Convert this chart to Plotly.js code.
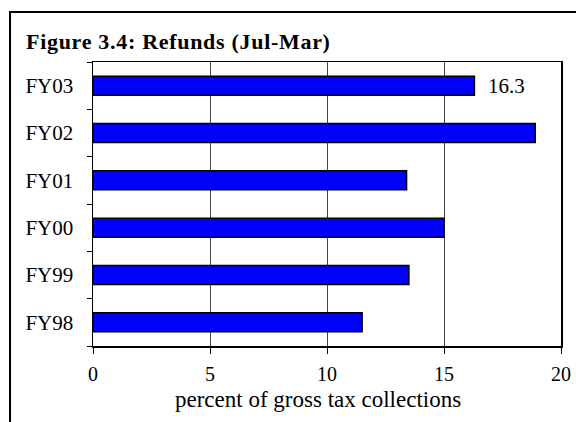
<!DOCTYPE html>
<html>
<head>
<meta charset="utf-8">
<script src="https://cdn.plot.ly/plotly-3.0.1.min.js"></script>
<style>
  html, body { margin: 0; padding: 0; background: #fff; }
  #wrap { position: relative; width: 576px; height: 422px; overflow: hidden; }
  #chart { width: 576px; height: 422px; }
  #frame { position: absolute; left: 9px; top: 11px; width: 600px; height: 500px;
           border-left: 2px solid #000; border-top: 2px solid #000; pointer-events: none; }
  .gtitle { letter-spacing: 0.7px; }
</style>
</head>
<body>
<div id="wrap">
  <div id="chart"></div>
  <div id="frame"></div>
</div>
<script>
// Data
const categories = ['FY98', 'FY99', 'FY00', 'FY01', 'FY02', 'FY03'];
const refundPct = [11.5, 13.5, 15.0, 13.4, 18.9, 16.3];
const barLabels = ['', '', '', '', '', '16.3'];
const xTickValues = [0, 5, 10, 15, 20];
const xAxisLabel = 'percent of gross tax collections';
const chartTitle = 'Figure 3.4: Refunds (Jul-Mar)';

const serif = 'Liberation Serif, Times New Roman, serif';

const trace = {
  type: 'bar',
  orientation: 'h',
  y: categories,
  x: refundPct,
  text: barLabels,
  texttemplate: '\u00a0\u00a0%{text}',
  textposition: 'outside',
  constraintext: 'none',
  cliponaxis: false,
  textfont: { family: serif, size: 21, color: '#000' },
  width: 0.4,
  marker: { color: '#0000FF', line: { color: '#000', width: 1.5 } },
  hoverinfo: 'skip'
};

const layout = {
  width: 576,
  height: 422,
  paper_bgcolor: '#fff',
  plot_bgcolor: '#fff',
  margin: { l: 93, r: 15, t: 62, b: 76, pad: 0 },
  showlegend: false,
  font: { family: serif, color: '#000' },
  title: {
    text: '<b>' + chartTitle + '</b>',
    font: { family: serif, size: 22, color: '#000' },
    xref: 'container', x: 26 / 576, xanchor: 'left',
    yref: 'container', y: 1 - 41 / 422, yanchor: 'middle'
  },
  xaxis: {
    range: [0, 20],
    tickvals: xTickValues,
    ticktext: xTickValues.map(String),
    showgrid: true,
    gridcolor: '#444',
    gridwidth: 1,
    zeroline: false,
    showline: true,
    linecolor: '#000',
    linewidth: 1.5,
    mirror: true,
    ticks: 'outside',
    ticklen: 6,
    tickcolor: '#000',
    tickwidth: 1,
    ticklabelstandoff: 3,
    tickfont: { family: serif, size: 20, color: '#000' },
    fixedrange: true
  },
  yaxis: {
    type: 'category',
    categoryorder: 'array',
    categoryarray: categories,
    showgrid: false,
    zeroline: false,
    showline: true,
    linecolor: '#000',
    linewidth: 1.5,
    mirror: true,
    ticks: 'outside',
    tickson: 'boundaries',
    ticklen: 5,
    tickcolor: '#000',
    tickwidth: 1,
    ticklabelstandoff: 14,
    tickfont: { family: serif, size: 21, color: '#000' },
    fixedrange: true
  },
  annotations: [{
    text: xAxisLabel,
    xref: 'paper', yref: 'paper',
    x: (318 - 93) / 468, y: -(399 - 346) / 284,
    xanchor: 'center', yanchor: 'middle',
    showarrow: false,
    font: { family: serif, size: 23, color: '#000' }
  }]
};

Plotly.newPlot('chart', [trace], layout, { displayModeBar: false, staticPlot: true });
</script>
</body>
</html>
